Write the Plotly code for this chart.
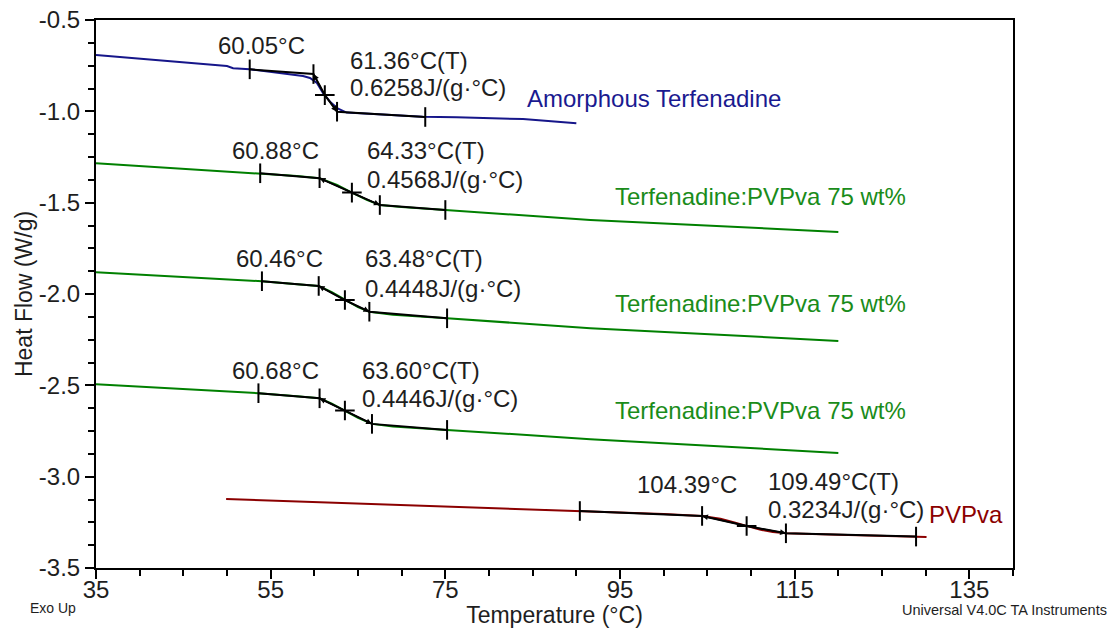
import plotly.graph_objects as go

# ---------------- data ----------------
blue_T = [35.0, 42.0, 50.0, 50.7, 52.6, 58.7, 59.5, 60.3, 61.0, 61.8, 62.6, 63.7, 72.4, 76.3, 83.9, 90.0]
blue_V = [-0.692, -0.719, -0.752, -0.764, -0.770, -0.807, -0.817, -0.845, -0.900, -0.947, -0.982, -1.007, -1.029, -1.033, -1.042, -1.065]

g1_T = [35.0, 53.8, 58.0, 60.6, 62.6, 64.3, 66.0, 67.5, 70.0, 75.0, 91.6, 120.0]
g1_V = [-1.284, -1.339, -1.354, -1.366, -1.403, -1.445, -1.485, -1.513, -1.524, -1.540, -1.595, -1.660]

g2_T = [35.0, 54.0, 58.0, 60.5, 62.0, 63.5, 65.0, 66.3, 69.0, 75.2, 91.6, 120.0]
g2_V = [-1.881, -1.930, -1.946, -1.956, -1.990, -2.033, -2.072, -2.097, -2.113, -2.133, -2.187, -2.257]

g3_T = [35.0, 53.6, 58.0, 60.6, 62.0, 63.5, 65.0, 66.6, 69.0, 75.2, 91.6, 120.0]
g3_V = [-2.494, -2.543, -2.560, -2.571, -2.600, -2.638, -2.678, -2.711, -2.726, -2.744, -2.795, -2.870]

red_T = [49.9, 70.8, 90.4, 100.0, 104.4, 106.5, 108.0, 109.5, 111.0, 112.5, 114.0, 120.0, 128.9, 130.1]
red_V = [-3.122, -3.156, -3.188, -3.205, -3.215, -3.230, -3.250, -3.270, -3.290, -3.303, -3.310, -3.318, -3.328, -3.330]

# glass-transition analysis points: baseline start, onset, inflection, end, baseline end
blue_gt_T = [52.6, 59.9, 61.2, 62.6, 72.7]
blue_gt_V = [-0.770, -0.796, -0.911, -1.002, -1.031]
g1_gt_T = [53.8, 60.6, 64.3, 67.5, 75.0]
g1_gt_V = [-1.339, -1.366, -1.445, -1.513, -1.540]
g2_gt_T = [54.0, 60.5, 63.5, 66.3, 75.2]
g2_gt_V = [-1.930, -1.956, -2.033, -2.097, -2.133]
g3_gt_T = [53.6, 60.6, 63.5, 66.6, 75.2]
g3_gt_V = [-2.543, -2.571, -2.638, -2.711, -2.744]
red_gt_T = [90.4, 104.4, 109.5, 114.0, 128.9]
red_gt_V = [-3.188, -3.215, -3.270, -3.310, -3.328]

onset_labels = ["60.05°C", "60.88°C", "60.46°C", "60.68°C", "104.39°C"]
tg_labels = ["61.36°C(T)", "64.33°C(T)", "63.48°C(T)", "63.60°C(T)", "109.49°C(T)"]
cp_labels = ["0.6258J/(g·°C)", "0.4568J/(g·°C)", "0.4448J/(g·°C)", "0.4446J/(g·°C)", "0.3234J/(g·°C)"]
curve_names = ["Amorphous Terfenadine", "Terfenadine:PVPva 75 wt%", "Terfenadine:PVPva 75 wt%",
               "Terfenadine:PVPva 75 wt%", "PVPva"]

x_ticks = [35, 55, 75, 95, 115, 135]
y_ticks = [-0.5, -1.0, -1.5, -2.0, -2.5, -3.0, -3.5]

# ---------------- styling / positions ----------------
FONT = "Liberation Sans, Arial, sans-serif"
TXT = "#1e1e1e"
FS = 24
colors = ["#16168a", "#008000", "#008000", "#008000", "#8b0000"]
name_colors = ["#1a1a90", "#1a8c1a", "#1a8c1a", "#1a8c1a", "#8b0000"]

curves = [(blue_T, blue_V), (g1_T, g1_V), (g2_T, g2_V), (g3_T, g3_V), (red_T, red_V)]
gts = [(blue_gt_T, blue_gt_V), (g1_gt_T, g1_gt_V), (g2_gt_T, g2_gt_V), (g3_gt_T, g3_gt_V), (red_gt_T, red_gt_V)]

# label anchor positions (data coords)
onset_pos = [(53.9, -0.637), (55.55, -1.212), (56.0, -1.804), (55.6, -2.420), (102.7, -3.045)]
tg_pos = [(63.9, -0.719), (65.8, -1.212), (65.6, -1.804), (65.2, -2.420), (111.7, -3.027)]
cp_pos = [(63.9, -0.868), (65.8, -1.372), (65.6, -1.969), (65.2, -2.571), (111.7, -3.182)]
name_pos = [(84.1, -0.929), (94.2, -1.467), (94.2, -2.054), (94.2, -2.640), (130.2, -3.209)]

fig = go.Figure()

for (T, V), c in zip(curves, colors):
    fig.add_trace(go.Scatter(x=T, y=V, mode="lines", line=dict(color=c, width=2),
                             showlegend=False, hoverinfo="skip"))

sym = ["line-ns", "line-ns", "cross-thin", "line-ns", "line-ns"]
for (T, V) in gts:
    fig.add_trace(go.Scatter(x=T, y=V, mode="lines+markers",
                             line=dict(color="black", width=2),
                             marker=dict(symbol=sym, size=14, color="black",
                                         line=dict(color="black", width=2)),
                             showlegend=False, hoverinfo="skip"))

ann = []
for i in range(5):
    T, V = gts[i]
    for j in (1, 3):
        ann.append(dict(x=T[j], y=V[j], ax=T[2], ay=V[2], xref="x", yref="y",
                        axref="x", ayref="y", text="", showarrow=True,
                        arrowhead=2, arrowsize=0.9, arrowwidth=1.3, arrowcolor="black",
                        standoff=0, startstandoff=0))
    ann.append(dict(x=onset_pos[i][0], y=onset_pos[i][1], text=onset_labels[i],
                    xref="x", yref="y", showarrow=False, xanchor="center", yanchor="middle",
                    font=dict(family=FONT, size=FS, color=TXT)))
    ann.append(dict(x=tg_pos[i][0], y=tg_pos[i][1], text=tg_labels[i],
                    xref="x", yref="y", showarrow=False, xanchor="left", yanchor="middle",
                    font=dict(family=FONT, size=FS, color=TXT)))
    ann.append(dict(x=cp_pos[i][0], y=cp_pos[i][1], text=cp_labels[i],
                    xref="x", yref="y", showarrow=False, xanchor="left", yanchor="middle",
                    font=dict(family=FONT, size=FS, color=TXT)))
    ann.append(dict(x=name_pos[i][0], y=name_pos[i][1], text=curve_names[i],
                    xref="x", yref="y", showarrow=False, xanchor="left", yanchor="middle",
                    font=dict(family=FONT, size=FS, color=name_colors[i])))

# footer notes, positioned in paper coords derived from pixel locations
L, R, T_, B = 96, 98, 20, 60
W_plot = 1111 - L - R
H_plot = 628 - T_ - B
ann.append(dict(x=(28 - L) / W_plot, y=(628 - B - 608) / H_plot, xref="paper", yref="paper",
                text="Exo Up", showarrow=False, xanchor="left", yanchor="middle",
                font=dict(family=FONT, size=14, color=TXT)))
ann.append(dict(x=(1109 - L) / W_plot, y=(628 - B - 610) / H_plot, xref="paper", yref="paper",
                text="Universal V4.0C TA Instruments", showarrow=False, xanchor="right", yanchor="middle",
                font=dict(family=FONT, size=14.5, color=TXT)))

fig.update_layout(
    width=1111, height=628,
    margin=dict(l=L, r=R, t=T_, b=B, autoexpand=False),
    paper_bgcolor="white", plot_bgcolor="white",
    font=dict(family=FONT, size=FS, color=TXT),
    showlegend=False,
    annotations=ann,
)

fig.update_xaxes(
    range=[35, 140], tickvals=x_ticks, ticktext=[str(v) for v in x_ticks],
    showgrid=False, zeroline=False, automargin=False,
    showline=True, linecolor="black", linewidth=2, mirror=True,
    ticks="outside", ticklen=9, tickwidth=2, tickcolor="black",
    ticklabelstandoff=-10,
    minor=dict(dtick=5, tick0=35, ticks="outside", ticklen=6, tickwidth=2, tickcolor="black", showgrid=False),
    tickfont=dict(family=FONT, size=FS, color=TXT),
    title=dict(text="Temperature (°C)", font=dict(family=FONT, size=23, color=TXT), standoff=0),
)
fig.update_yaxes(
    range=[-3.5, -0.5], tickvals=y_ticks, ticktext=[f"{v:.1f}" for v in y_ticks],
    showgrid=False, zeroline=False, automargin=False,
    showline=True, linecolor="black", linewidth=2, mirror=True,
    ticks="outside", ticklen=9, tickwidth=2, tickcolor="black",
    minor=dict(dtick=0.125, tick0=-0.5, ticks="outside", ticklen=6, tickwidth=2, tickcolor="black", showgrid=False),
    tickfont=dict(family=FONT, size=FS, color=TXT),
    title=dict(text="Heat Flow (W/g)", font=dict(family=FONT, size=23, color=TXT), standoff=0),
)

fig.write_html("out.html")
